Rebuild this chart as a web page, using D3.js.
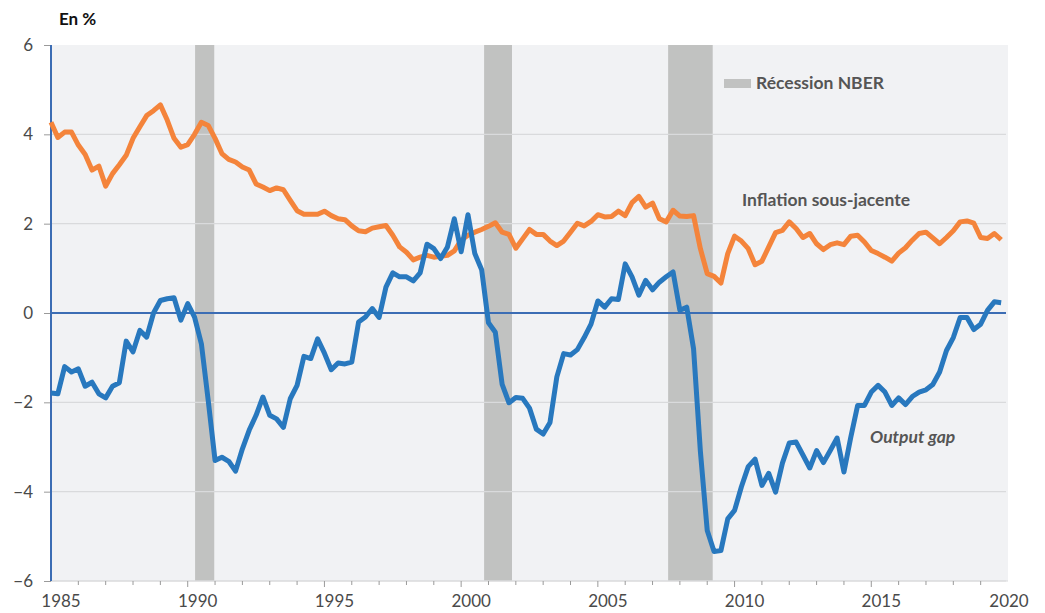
<!DOCTYPE html>
<meta charset="utf-8">
<style>
body { margin: 0; background: #fff; }
text { font-family: Lato, "Open Sans", sans-serif; }
.tick text { font-size: 17px; fill: #4a4a4a; }
.grid line { stroke: #d9dadc; stroke-width: 1.2px; }
.label { font-size: 17.5px; font-weight: 700; fill: #555; }
</style>
<svg width="1045" height="613"></svg>
<script src="https://d3js.org/d3.v7.min.js"></script>
<script>

// quarterly series, 1985 Q1 .. 2019 Q4
var firstYear = 1985;

var inflation = [
  4.27, 3.93, 4.05, 4.05, 3.76, 3.55, 3.20, 3.29, 2.84, 3.12,
  3.32, 3.53, 3.91, 4.17, 4.42, 4.53, 4.66, 4.32, 3.91, 3.71,
  3.77, 4.00, 4.27, 4.20, 3.91, 3.57, 3.44, 3.38, 3.27, 3.20,
  2.89, 2.82, 2.74, 2.80, 2.76, 2.52, 2.29, 2.21, 2.21, 2.21,
  2.28, 2.18, 2.11, 2.09, 1.95, 1.84, 1.82, 1.90, 1.93, 1.96,
  1.74, 1.48, 1.36, 1.19, 1.25, 1.29, 1.25, 1.27, 1.29, 1.39,
  1.63, 1.74, 1.81, 1.87, 1.94, 2.02, 1.81, 1.76, 1.45, 1.66,
  1.87, 1.76, 1.76, 1.61, 1.51, 1.61, 1.81, 2.01, 1.95, 2.05,
  2.20, 2.15, 2.16, 2.28, 2.18, 2.47, 2.61, 2.37, 2.46, 2.11,
  2.04, 2.30, 2.17, 2.16, 2.18, 1.44, 0.88, 0.82, 0.67, 1.33,
  1.72, 1.61, 1.44, 1.08, 1.16, 1.48, 1.80, 1.85, 2.04, 1.89,
  1.69, 1.78, 1.55, 1.42, 1.53, 1.57, 1.53, 1.72, 1.74, 1.59,
  1.40, 1.33, 1.25, 1.16, 1.34, 1.46, 1.63, 1.78, 1.81, 1.68,
  1.55, 1.69, 1.84, 2.04, 2.06, 2.01, 1.69, 1.67, 1.78, 1.64
];

var outputGap = [
  -1.79, -1.81, -1.20, -1.32, -1.25, -1.64, -1.55, -1.81, -1.90, -1.64,
  -1.56, -0.63, -0.87, -0.39, -0.54, 0.00, 0.28, 0.32, 0.34, -0.16,
  0.21, -0.09, -0.69, -1.96, -3.30, -3.23, -3.32, -3.54, -3.04, -2.62,
  -2.29, -1.88, -2.29, -2.37, -2.56, -1.92, -1.62, -0.97, -1.02, -0.58,
  -0.90, -1.27, -1.12, -1.14, -1.10, -0.20, -0.09, 0.10, -0.10, 0.58,
  0.90, 0.81, 0.81, 0.72, 0.90, 1.54, 1.44, 1.22, 1.48, 2.11,
  1.37, 2.20, 1.33, 0.97, -0.22, -0.43, -1.60, -2.01, -1.89, -1.91,
  -2.13, -2.60, -2.71, -2.45, -1.43, -0.91, -0.94, -0.82, -0.55, -0.25,
  0.27, 0.13, 0.32, 0.30, 1.10, 0.81, 0.40, 0.73, 0.52, 0.69,
  0.81, 0.92, 0.06, 0.13, -0.80, -3.10, -4.87, -5.34, -5.32, -4.61,
  -4.42, -3.89, -3.44, -3.27, -3.86, -3.59, -4.01, -3.36, -2.91, -2.89,
  -3.18, -3.47, -3.08, -3.35, -3.08, -2.80, -3.56, -2.78, -2.07, -2.07,
  -1.77, -1.62, -1.77, -2.07, -1.90, -2.05, -1.87, -1.77, -1.72, -1.60,
  -1.32, -0.84, -0.55, -0.10, -0.10, -0.37, -0.25, 0.06, 0.25, 0.23
];

// NBER recessions (as drawn)
var recStart = [1990.27, 2000.84, 2007.57];
var recEnd   = [1990.97, 2001.86, 2009.20];

var yTicks = [-6, -4, -2, 0, 2, 4, 6];
var xLabels = [1985, 1990, 1995, 2000, 2005, 2010, 2015, 2020];

var svg = d3.select("svg");

var x = d3.scaleLinear().domain([1985, 2020]).range([51, 1008]);
var y = d3.scaleLinear().domain([-6, 6]).range([581, 45]);

function qDate(i) { return firstYear + i / 4; }

// plot background
svg.append("rect")
    .attr("x", x(1985)).attr("y", y(6))
    .attr("width", x(2020) - x(1985))
    .attr("height", y(-6) - y(6))
    .attr("fill", "#f1f2f4");

// recession bands
svg.append("g").selectAll("rect")
    .data(recStart)
    .enter().append("rect")
      .attr("x", function(d) { return x(d); })
      .attr("y", y(6))
      .attr("width", function(d, i) { return x(recEnd[i]) - x(d); })
      .attr("height", y(-6) - y(6))
      .attr("fill", "#c1c2c1");

// horizontal grid
svg.append("g").attr("class", "grid")
  .selectAll("line")
  .data(yTicks.filter(function(d) { return d !== 0 && d !== 6; }))
  .enter().append("line")
    .attr("x1", x(1985)).attr("x2", x(2020) - 2)
    .attr("y1", function(d) { return y(d); })
    .attr("y2", function(d) { return y(d); });

// bottom edge
svg.append("line")
    .attr("x1", x(1985)).attr("x2", x(2020))
    .attr("y1", y(-6)).attr("y2", y(-6))
    .attr("stroke", "#d9dadc").attr("stroke-width", 1);

// x ticks
var xAxis = svg.append("g").attr("transform", "translate(0," + y(-6) + ")");
xAxis.selectAll("line")
    .data(d3.range(1986, 2020))
    .enter().append("line")
      .attr("x1", function(d) { return x(d); })
      .attr("x2", function(d) { return x(d); })
      .attr("y1", 0)
      .attr("y2", function(d) { return d % 5 === 0 ? 6 : 4; })
      .attr("stroke", "#9a9a9a").attr("stroke-width", 1);

xAxis.selectAll("text")
    .data(xLabels)
    .enter().append("text")
      .attr("class", "tick")
      .attr("x", function(d) { return Math.min(x(d) + 10, 1009); })
      .attr("y", 26)
      .attr("text-anchor", "middle")
      .style("font-size", "17px")
      .style("fill", "#4a4a4a")
      .text(function(d) { return d; });

// y axis
var yAxis = svg.append("g").attr("transform", "translate(" + x(1985) + ",0)")
    .call(d3.axisLeft(y).tickValues(yTicks).tickSize(7).tickPadding(11));
yAxis.select(".domain").remove();
yAxis.selectAll(".tick line").attr("stroke", "#9a9a9a");
yAxis.selectAll(".tick text").attr("class", null)
    .style("font-size", "17px").style("fill", "#4a4a4a")
    .style("font-family", "Lato, sans-serif");

svg.append("line")
    .attr("x1", x(1985)).attr("x2", x(1985))
    .attr("y1", y(6)).attr("y2", y(-6))
    .attr("stroke", "#3c6db4").attr("stroke-width", 2);

// zero line
svg.append("line")
    .attr("x1", x(1985)).attr("x2", x(2020) - 2)
    .attr("y1", y(0)).attr("y2", y(0))
    .attr("stroke", "#3c6db4").attr("stroke-width", 2);

var line = d3.line()
    .x(function(d, i) { return x(qDate(i)); })
    .y(function(d) { return y(d); });

svg.append("path")
    .datum(inflation)
    .attr("d", line)
    .attr("fill", "none")
    .attr("stroke", "#f4843b")
    .attr("stroke-width", 5)
    .attr("stroke-linejoin", "round");

svg.append("path")
    .datum(outputGap)
    .attr("d", line)
    .attr("fill", "none")
    .attr("stroke", "#2878be")
    .attr("stroke-width", 5)
    .attr("stroke-linejoin", "round");

// labels
svg.append("text")
    .attr("x", 59).attr("y", 25)
    .style("font-size", "17px").style("font-weight", 700).style("fill", "#111")
    .text("En %");

svg.append("rect")
    .attr("x", 724).attr("y", 79).attr("width", 27).attr("height", 9)
    .attr("fill", "#c1c2c1");
svg.append("text").attr("class", "label")
    .attr("x", 756).attr("y", 89)
    .text("Récession NBER");

svg.append("text").attr("class", "label")
    .attr("x", 742).attr("y", 206)
    .text("Inflation sous-jacente");

svg.append("text").attr("class", "label")
    .attr("x", 870).attr("y", 443)
    .style("font-style", "italic")
    .text("Output gap");

</script>
